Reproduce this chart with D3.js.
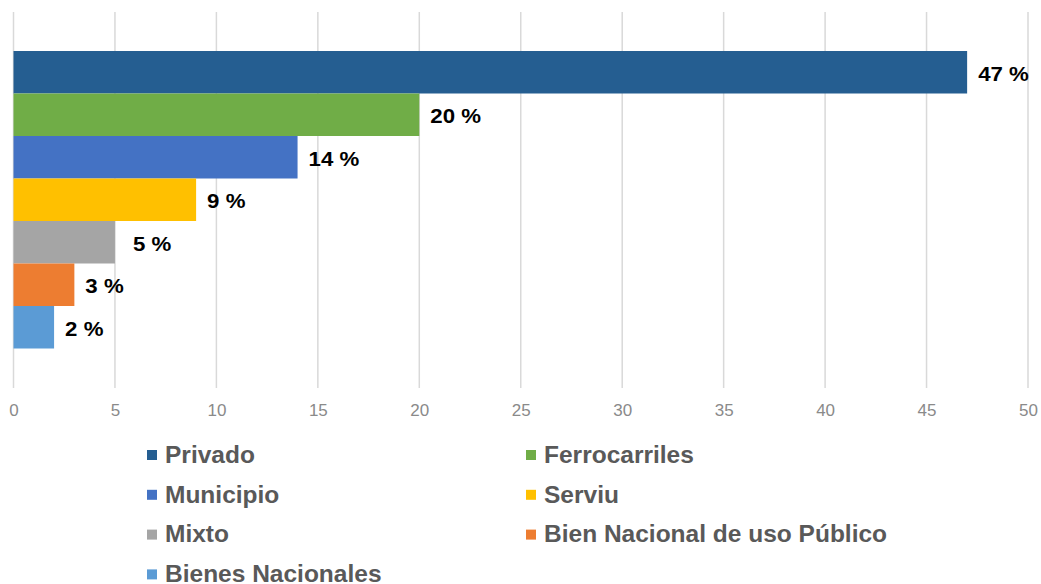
<!doctype html>
<html>
<head>
<meta charset="utf-8">
<script src="https://d3js.org/d3.v7.min.js"></script>
<style>
  body { margin: 0; background: #fff; }
  text { font-family: "Liberation Sans", Arial, sans-serif; }
</style>
</head>
<body>
<div id="chart"></div>
<script>
// data
var categories = ["Privado", "Ferrocarriles", "Municipio", "Serviu", "Mixto", "Bien Nacional de uso Público", "Bienes Nacionales"];
var values = [47, 20, 14, 9, 5, 3, 2];
var colors = ["#255e91", "#70ad47", "#4472c4", "#ffc000", "#a5a5a5", "#ed7d31", "#5b9bd5"];
var ticks = [0, 5, 10, 15, 20, 25, 30, 35, 40, 45, 50];

var W = 1041, H = 584;
var svg = d3.select("#chart").append("svg")
  .attr("width", W).attr("height", H);

var x = d3.scaleLinear().domain([0, 50]).range([13.5, 1028]);
var y = d3.scaleBand().domain(categories).range([51, 348.5]).padding(0);

// gridlines
svg.append("g").selectAll("line")
  .data(ticks).enter().append("line")
  .attr("x1", function(d) { return x(d); })
  .attr("x2", function(d) { return x(d); })
  .attr("y1", 12).attr("y2", 388)
  .attr("stroke", "#d9d9d9").attr("stroke-width", 1.5);

// x axis labels
var xAxis = d3.axisBottom(x).tickValues(ticks).tickSize(0).tickPadding(0);
var ax = svg.append("g").attr("transform", "translate(0,410)").call(xAxis);
ax.select(".domain").remove();
ax.selectAll("text")
  .attr("y", 0)
  .attr("dy", "0.36em")
  .attr("fill", "#8a8a8a")
  .style("font-size", "17px")
  .style("font-family", "'Liberation Sans', Arial, sans-serif");

// bars
svg.append("g").selectAll("rect")
  .data(categories).enter().append("rect")
  .attr("x", x(0))
  .attr("y", function(d) { return y(d); })
  .attr("width", function(d, i) { return x(values[i]) - x(0); })
  .attr("height", y.bandwidth())
  .attr("fill", function(d, i) { return colors[i]; });

// value labels
svg.append("g").selectAll("text")
  .data(categories).enter().append("text")
  .attr("transform", function(d, i) {
    var lx = x(values[i]) + (values[i] == 5 ? 18 : 11);
    var ly = y(d) + y.bandwidth() / 2 + 1;
    return "translate(" + lx + "," + ly + ") scale(1.06,1)";
  })
  .attr("dy", "0.36em")
  .style("font-size", "21px")
  .style("font-weight", "bold")
  .attr("fill", "#000")
  .text(function(d, i) { return values[i] + " %"; });

// legend
var legend = svg.append("g").selectAll("g")
  .data(categories).enter().append("g")
  .attr("transform", function(d, i) {
    var col = i % 2, row = Math.floor(i / 2);
    return "translate(" + (col == 0 ? 147 : 526) + "," + (454 + row * 39.8) + ")";
  });

legend.append("rect")
  .attr("x", 0).attr("y", -4)
  .attr("width", 10).attr("height", 10)
  .attr("fill", function(d, i) { return colors[i]; });

legend.append("text")
  .attr("x", 18).attr("y", 0)
  .attr("dy", "0.36em")
  .style("font-size", "24.5px")
  .style("font-weight", "bold")
  .attr("fill", "#595959")
  .text(function(d) { return d; });
</script>
</body>
</html>
